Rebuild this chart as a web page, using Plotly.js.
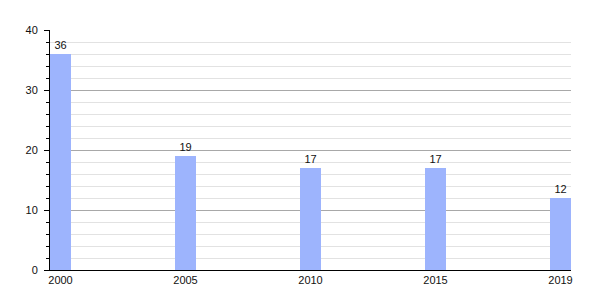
<!DOCTYPE html>
<html><head><meta charset="utf-8">
<script src="https://cdn.plot.ly/plotly-3.0.1.min.js"></script>
<style>html,body{margin:0;padding:0;background:#fff}#c{width:600px;height:300px}</style>
</head><body><div id="c"></div>
<script>
var years = ["2000", "2005", "2010", "2015", "2019"];
var values = [36, 19, 17, 17, 12];
var labels = ["36", "19", "17", "17", "12"];

var trace = {
  type: "bar",
  x: years,
  y: values,
  text: labels,
  textposition: "outside",
  cliponaxis: false,
  textfont: {family: "Liberation Sans, Arial, sans-serif", size: 11, color: "#111"},
  marker: {color: "#9db4fd", line: {width: 0}},
  width: 0.166,
  hoverinfo: "x+y"
};

var layout = {
  width: 600, height: 300,
  margin: {l: 50, r: 29, t: 30, b: 30},
  paper_bgcolor: "#fff", plot_bgcolor: "#fff",
  showlegend: false,
  font: {family: "Liberation Sans, Arial, sans-serif", size: 11, color: "#000"},
  xaxis: {
    type: "category",
    range: [-0.084, 4.084],
    showline: true, linecolor: "#000", linewidth: 1,
    showgrid: false, ticks: "", zeroline: false,
    tickfont: {size: 11, color: "#111"}
  },
  yaxis: {
    range: [0, 40],
    tickvals: [0, 10, 20, 30, 40],
    showline: true, linecolor: "#000", linewidth: 1,
    ticks: "outside", ticklen: 5, tickcolor: "#000", tickwidth: 1,
    ticklabelstandoff: 4,
    showgrid: true, gridcolor: "#a8a8a8", gridwidth: 1,
    zeroline: false,
    tickfont: {size: 11, color: "#111"},
    minor: {dtick: 2, showgrid: true, gridcolor: "#e2e2e2", gridwidth: 1,
            ticks: "outside", ticklen: 3, tickcolor: "#000"}
  },
  bargap: 0
};

Plotly.newPlot("c", [trace], layout, {staticPlot: true, displayModeBar: false});
</script></body></html>
